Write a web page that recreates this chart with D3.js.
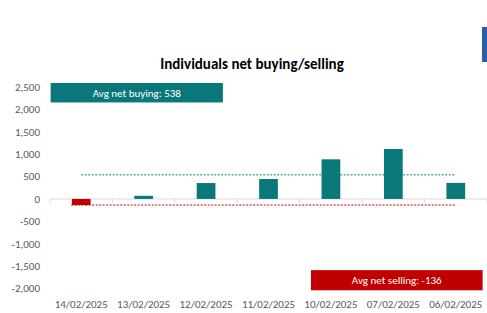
<!DOCTYPE html>
<html>
<head>
<meta charset="utf-8">
<title>Individuals net buying/selling</title>
<style>
body { margin: 0; background: #fff; }
svg text { font-family: Carlito, "Liberation Sans", "DejaVu Sans", sans-serif; }
.tick-label { font-size: 11px; fill: #595959; }
</style>
</head>
<body>
<svg width="487" height="313"></svg>
<script src="https://d3js.org/d3.v7.min.js"></script>
<script>

var dates = ["14/02/2025", "13/02/2025", "12/02/2025", "11/02/2025", "10/02/2025", "07/02/2025", "06/02/2025"];
var netValues = [-136, 70, 355, 445, 885, 1115, 358];
var yTicks = [2500, 2000, 1500, 1000, 500, 0, -500, -1000, -1500, -2000];
var avgBuying = 538;
var avgSelling = -136;

var teal = "#0a787b",
    red = "#c00000";

var svg = d3.select("svg");

var x = d3.scaleBand()
    .domain(dates)
    .range([50, 487])
    .paddingInner(0.7)
    .paddingOuter(0.35);

// continuous version of the category axis, for placing the annotation boxes
var xi = d3.scaleLinear().domain([0, dates.length]).range([50, 487]);

var y = d3.scaleLinear()
    .domain([-2000, 2500])
    .range([288.5, 87]);

var fmt = function(v) { return d3.format(",")(v).replace("\u2212", "-"); };

// title
svg.append("text")
    .attr("x", 252)
    .attr("y", 69)
    .attr("text-anchor", "middle")
    .style("font-size", "15px")
    .style("font-weight", "bold")
    .style("fill", "#000")
    .text("Individuals net buying/selling");

// blue marker top right
svg.append("rect")
    .attr("x", 482).attr("y", 27)
    .attr("width", 6).attr("height", 35)
    .attr("fill", "#2a5cab");

// y labels
svg.selectAll(".ylab")
  .data(yTicks)
  .enter().append("text")
    .attr("class", "tick-label")
    .attr("x", 40)
    .attr("y", function(d) { return y(d); })
    .attr("dy", "0.35em")
    .attr("text-anchor", "end")
    .text(fmt);

// zero axis with category ticks
svg.append("line")
    .attr("x1", 50).attr("x2", 487)
    .attr("y1", y(0)).attr("y2", y(0))
    .attr("stroke", "#d9d9d9");

svg.selectAll(".xtick")
  .data(d3.range(dates.length + 1))
  .enter().append("line")
    .attr("x1", function(i) { return xi(i); })
    .attr("x2", function(i) { return xi(i); })
    .attr("y1", y(0)).attr("y2", y(0) + 4)
    .attr("stroke", "#d9d9d9");

// bars
svg.selectAll(".bar")
  .data(netValues)
  .enter().append("rect")
    .attr("x", function(d, i) { return x(dates[i]); })
    .attr("width", x.bandwidth())
    .attr("y", function(d) { return y(Math.max(0, d)); })
    .attr("height", function(d) { return Math.abs(y(d) - y(0)); })
    .attr("fill", function(d) { return d < 0 ? red : teal; });

// average lines
var cx0 = x(dates[0]) + x.bandwidth() / 2,
    cx1 = x(dates[dates.length - 1]) + x.bandwidth() / 2;

svg.append("line")
    .attr("x1", cx0).attr("x2", cx1)
    .attr("y1", y(avgBuying)).attr("y2", y(avgBuying))
    .attr("stroke", teal).attr("stroke-width", 1)
    .attr("stroke-dasharray", "2,1.5");

svg.append("line")
    .attr("x1", cx0 - 10).attr("x2", cx1)
    .attr("y1", y(avgSelling)).attr("y2", y(avgSelling))
    .attr("stroke", red).attr("stroke-width", 1)
    .attr("stroke-dasharray", "2,1.5");

// x labels
svg.selectAll(".xlab")
  .data(dates)
  .enter().append("text")
    .attr("class", "tick-label")
    .attr("x", function(d) { return x(d) + x.bandwidth() / 2; })
    .attr("y", 308)
    .attr("text-anchor", "middle")
    .text(function(d) { return d; });

// annotation boxes
var boxes = [
  { label: "Avg net buying: " + avgBuying, i0: 0.01, i1: 2.77, v0: 2590, v1: 2155, color: teal },
  { label: "Avg net selling: " + avgSelling, i0: 4.18, i1: 6.93, v0: -1590, v1: -2040, color: red }
];

var box = svg.selectAll(".box")
  .data(boxes)
  .enter().append("g");

box.append("rect")
    .attr("x", function(d) { return xi(d.i0); })
    .attr("y", function(d) { return y(d.v0); })
    .attr("width", function(d) { return xi(d.i1) - xi(d.i0); })
    .attr("height", function(d) { return y(d.v1) - y(d.v0); })
    .attr("fill", function(d) { return d.color; });

box.append("text")
    .attr("x", function(d) { return (xi(d.i0) + xi(d.i1)) / 2; })
    .attr("y", function(d) { return (y(d.v0) + y(d.v1)) / 2; })
    .attr("dy", "0.35em")
    .attr("text-anchor", "middle")
    .style("font-size", "11px")
    .style("fill", "#fff")
    .text(function(d) { return d.label; });

</script>
</body>
</html>
